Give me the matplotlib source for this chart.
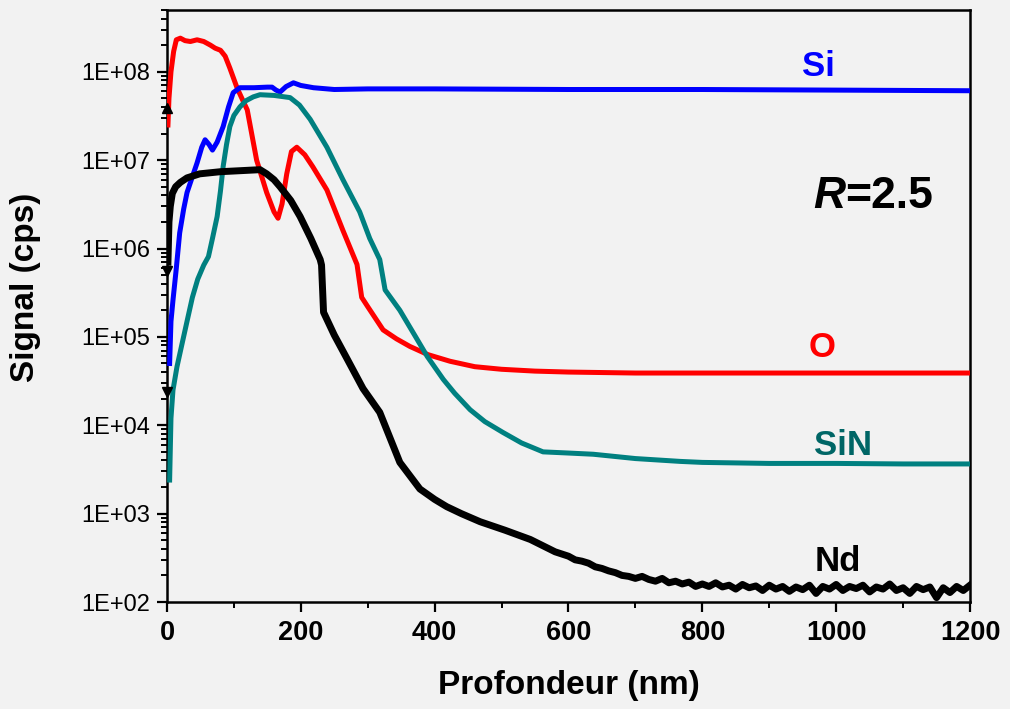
import matplotlib
matplotlib.use("Agg")
import matplotlib.pyplot as plt
from matplotlib.ticker import LogLocator, FixedLocator, MultipleLocator, NullFormatter
import numpy as np

# SIMS depth profile data
o_depth = [1.5, 3, 6, 10, 14, 20, 27, 35, 45, 55, 65, 72, 80, 87, 94, 105, 120, 134, 149,
           160, 166, 172, 179, 186, 194, 206, 218, 239, 263, 284, 291, 300, 323, 343, 363,
           390, 423, 460, 500, 550, 600, 700, 800, 900, 1000, 1100, 1200]
o_signal = [2.5e7, 5e7, 1.0e8, 1.7e8, 2.3e8, 2.4e8, 2.25e8, 2.2e8, 2.3e8, 2.2e8, 2.0e8, 1.85e8,
            1.75e8, 1.5e8, 1.1e8, 6.5e7, 3.7e7, 1.0e7, 4.3e6, 2.6e6, 2.2e6, 3.2e6, 7e6, 1.25e7,
            1.4e7, 1.15e7, 8.4e6, 4.6e6, 1.6e6, 6.6e5, 2.8e5, 2.2e5, 1.2e5, 9.5e4, 7.8e4, 6.3e4,
            5.3e4, 4.6e4, 4.3e4, 4.1e4, 4.0e4, 3.9e4, 3.9e4, 3.9e4, 3.9e4, 3.9e4, 3.9e4]

si_depth = [4, 6, 9, 14, 19, 25, 30, 38, 45, 52, 57, 63, 68, 75, 84, 92, 99, 109, 130, 150,
            157, 163, 169, 178, 189, 200, 219, 250, 300, 400, 600, 800, 1000, 1200]
si_signal = [5e4, 1.5e5, 2.6e5, 6e5, 1.5e6, 2.8e6, 4.3e6, 6.5e6, 9.3e6, 1.4e7, 1.7e7, 1.5e7,
             1.3e7, 1.6e7, 2.4e7, 4e7, 5.8e7, 6.6e7, 6.6e7, 6.7e7, 6.7e7, 6.2e7, 5.9e7, 6.8e7,
             7.5e7, 7.0e7, 6.6e7, 6.3e7, 6.4e7, 6.4e7, 6.3e7, 6.3e7, 6.2e7, 6.1e7]

sin_depth = [4, 6, 9, 15, 22, 30, 38, 46, 55, 62, 68, 75, 80, 84, 89, 94, 100, 109, 118, 129,
             139, 160, 184, 198, 214, 239, 263, 288, 303, 318, 326, 348, 370, 389, 413, 430,
             453, 475, 502, 530, 562, 600, 637, 700, 767, 800, 900, 1000, 1100, 1200]
sin_signal = [2.4e3, 1.2e4, 2.5e4, 4.6e4, 8e4, 1.5e5, 2.8e5, 4.5e5, 6.5e5, 8.1e5, 1.3e6, 2.3e6,
              4.5e6, 8.5e6, 1.5e7, 2.4e7, 3.2e7, 4e7, 4.7e7, 5.2e7, 5.5e7, 5.4e7, 5.1e7, 4.2e7,
              2.9e7, 1.4e7, 6e6, 2.6e6, 1.3e6, 7.5e5, 3.4e5, 2e5, 1.05e5, 6e4, 3.3e4, 2.3e4,
              1.5e4, 1.1e4, 8.3e3, 6.3e3, 5.0e3, 4.85e3, 4.7e3, 4.2e3, 3.9e3, 3.8e3, 3.7e3,
              3.7e3, 3.65e3, 3.65e3]

nd_depth = [1.5, 3, 5, 8, 13, 20, 30, 49, 80, 110, 139, 149, 160, 169, 185, 199, 215, 229,
            231, 234, 250, 270, 293, 318, 348, 378, 400, 418, 440, 468, 505, 543, 580,
            600, 610, 620, 630, 640, 650, 660, 670, 680, 690, 700, 710, 720, 730, 740, 750,
            760, 770, 780, 790, 800, 810, 820, 830, 840, 850, 860, 870, 880, 890, 900, 910,
            920, 930, 940, 950, 960, 970, 980, 990, 1000, 1010, 1020, 1030, 1040, 1050, 1060,
            1070, 1080, 1090, 1100, 1110, 1120, 1130, 1140, 1150, 1160, 1170, 1180, 1190, 1200]
nd_signal = [7e5, 2e6, 3.0e6, 4.2e6, 5.0e6, 5.6e6, 6.3e6, 7.0e6, 7.4e6, 7.6e6, 7.8e6, 7.0e6,
             6.0e6, 5.0e6, 3.5e6, 2.3e6, 1.3e6, 7.5e5, 6.5e5, 1.9e5, 1.05e5, 5.5e4, 2.6e4,
             1.4e4, 3.8e3, 1.9e3, 1.45e3, 1.2e3, 1.0e3, 810, 650, 510, 370,
             330, 300, 290, 275, 250, 240, 225, 215, 200, 195, 185, 195, 180, 172, 185, 165,
             172, 160, 168, 150, 160, 150, 165, 148, 155, 140, 158, 145, 152, 135, 155, 140,
             150, 132, 148, 138, 155, 125, 150, 140, 158, 135, 150, 142, 155, 130, 148,
             140, 160, 135, 145, 125, 150, 138, 148, 112, 145, 128, 150, 135, 155]

# small triangle markers sitting on the y axis
tri_up_y = [3.9e7]
tri_down_y = [5.5e5, 2.4e4]

bg = "#f2f2f2"
plt.rcParams["font.family"] = ["Liberation Sans", "DejaVu Sans"]

fig = plt.figure(figsize=(10.1, 7.09), dpi=100, facecolor=bg)
ax = fig.add_axes([0.1653, 0.1509, 0.7951, 0.8350], facecolor=bg)

ax.plot(o_depth, o_signal, color="#ff0000", lw=3.6, zorder=3)
ax.plot(si_depth, si_signal, color="#0000ff", lw=3.6, zorder=3)
ax.plot(sin_depth, sin_signal, color="#008080", lw=3.6, zorder=3)
ax.plot(nd_depth, nd_signal, color="black", lw=5.0, zorder=4)

ax.plot([0] * len(tri_up_y), tri_up_y, ls="none", marker="^", color="black", ms=7, clip_on=False, zorder=5)
ax.plot([0] * len(tri_down_y), tri_down_y, ls="none", marker="v", color="black", ms=7, clip_on=False, zorder=5)

ax.set_yscale("log")
ax.set_xlim(0, 1200)
ax.set_ylim(1e2, 5e8)

ax.xaxis.set_major_locator(MultipleLocator(200))
ax.xaxis.set_minor_locator(MultipleLocator(100))
ax.yaxis.set_major_locator(FixedLocator([1e2, 1e3, 1e4, 1e5, 1e6, 1e7, 1e8]))
ax.yaxis.set_minor_locator(LogLocator(base=10, subs=np.arange(2, 10), numticks=20))
ax.yaxis.set_minor_formatter(NullFormatter())
ax.set_yticklabels(["1E+02", "1E+03", "1E+04", "1E+05", "1E+06", "1E+07", "1E+08"],
                   fontsize=17)
ax.set_xticks([0, 200, 400, 600, 800, 1000, 1200])
ax.set_xticklabels(["0", "200", "400", "600", "800", "1000", "1200"],
                   fontsize=19.5, fontweight="bold")

ax.tick_params(which="major", direction="out", length=7, width=1.6, pad=6, top=False, right=False)
ax.tick_params(which="minor", direction="out", length=4.2, width=1.4, top=False, right=False)
ax.tick_params(axis="y", which="major", pad=5)
for s in ax.spines.values():
    s.set_linewidth(1.8)

ax.set_xlabel("Profondeur (nm)", fontsize=24, fontweight="bold")
ax.set_ylabel("Signal (cps)", fontsize=24, fontweight="bold")
ax.xaxis.set_label_coords(0.5006, -0.115)
ax.yaxis.set_label_coords(-0.157, 0.531)

# series labels
ax.text(973, 1.14e8, "Si", color="#0000ff", fontsize=25, fontweight="bold", ha="center", va="center")
ax.text(979, 7.6e4, "O", color="#ff0000", fontsize=25, fontweight="bold", ha="center", va="center")
ax.text(1010, 5.9e3, "SiN", color="#006666", fontsize=25, fontweight="bold", ha="center", va="center")
ax.text(1003, 2.9e2, "Nd", color="black", fontsize=25, fontweight="bold", ha="center", va="center")
ax.text(1013, 3.9e6, "R", color="black", fontsize=32, fontweight="bold", style="italic",
        ha="right", va="center")
ax.text(1013, 3.9e6, "=2.5", color="black", fontsize=32, fontweight="bold", ha="left", va="center")

fig.savefig("out.png", dpi=100, facecolor=bg)
